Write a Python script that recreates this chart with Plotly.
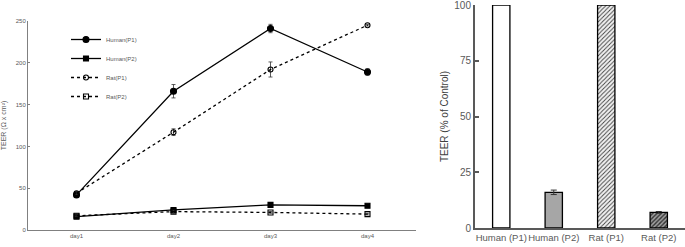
import plotly.graph_objects as go

days = ["day1", "day2", "day3", "day4"]
human_p1 = [42, 166, 241, 189]
human_p1_err = [2, 8, 5, 4]
human_p2 = [16, 24, 30, 29]
human_p2_err = [1, 1, 1, 1]
rat_p1 = [44, 117, 192, 245]
rat_p1_err = [2, 4, 9, 1]
rat_p2 = [17, 22, 21, 19]
rat_p2_err = [1, 2, 1, 1]

groups = ["Human (P1)", "Human (P2)", "Rat (P1)", "Rat (P2)"]
pct = [100, 16, 100, 7]
pct_err = [0, 1, 0, 0.4]

W, H = 685, 247
fig = go.Figure()

line_specs = [
    ("Human(P1)", human_p1, human_p1_err, "solid", "circle", 6),
    ("Human(P2)", human_p2, human_p2_err, "solid", "square", 5),
    ("Rat(P1)", rat_p1, rat_p1_err, "dot", "circle-open", 5),
    ("Rat(P2)", rat_p2, rat_p2_err, "dot", "square-open", 5),
]
for name, vals, err, dash, sym, size in line_specs:
    fig.add_trace(go.Scatter(
        x=days, y=vals, name=name, mode="lines+markers",
        line=dict(color="black", width=1.3, dash=dash),
        marker=dict(symbol=sym, size=size, color="black",
                    line=dict(color="black", width=1.1)),
        error_y=dict(type="data", array=err, color="#333333", thickness=0.8, width=2),
        xaxis="x", yaxis="y",
    ))

bar_styles = [
    dict(color="white", pattern=dict(shape="")),
    dict(color="#a6a6a6", pattern=dict(shape="")),
    dict(color="#f2f2f2", pattern=dict(shape="/", fgcolor="#404040", bgcolor="#f2f2f2",
                                       size=3, solidity=0.3, fillmode="replace")),
    dict(color="#a0a0a0", pattern=dict(shape="/", fgcolor="#333333", bgcolor="#a0a0a0",
                                       size=3, solidity=0.45, fillmode="replace")),
]
for g, v, e, st in zip(groups, pct, pct_err, bar_styles):
    fig.add_trace(go.Bar(
        x=[g], y=[v], showlegend=False, width=0.33,
        marker=dict(color=st["color"], pattern=st["pattern"],
                    line=dict(color="black", width=1.3)),
        error_y=dict(type="data", array=[e], color="#333333", thickness=1, width=3,
                     visible=e > 0),
        xaxis="x2", yaxis="y2",
    ))

fig.update_layout(
    template="none", barmode="overlay",
    width=W, height=H, margin=dict(l=0, r=0, t=0, b=0, autoexpand=False),
    paper_bgcolor="white", plot_bgcolor="white",
    font=dict(family="Liberation Sans, Arial", color="#595959"),
    showlegend=True,
    legend=dict(x=66 / W, y=1 - 25 / H, xanchor="left", yanchor="top",
                font=dict(size=6, color="#595959"), itemwidth=30,
                bgcolor="rgba(0,0,0,0)", tracegroupgap=6),
    xaxis=dict(domain=[28 / W, 416 / W], range=[-0.5, 3.5], showgrid=False, automargin=False,
               showline=True, linecolor="#808080", linewidth=1, ticks="",
               tickfont=dict(size=6, color="#595959"), anchor="y"),
    yaxis=dict(domain=[17 / H, 1 - 21 / H], range=[0, 250], tickvals=[0, 50, 100, 150, 200, 250],
               showgrid=False, zeroline=False, showline=True, linecolor="#808080", linewidth=1,
               ticks="inside", ticklen=2, tickcolor="#808080", automargin=False,
               ticklabeloverflow="allow",
               tickfont=dict(size=6, color="#595959"), anchor="x",
               title=dict(text="TEER (Ω x cm²)", font=dict(size=7, color="#595959"), standoff=8)),
    xaxis2=dict(domain=[475 / W, 1.0], range=[-0.5, 3.5], showgrid=False, automargin=False,
                showline=True, linecolor="#595959", linewidth=2, ticks="", tickangle=0,
                ticklabeloverflow="allow",
                tickfont=dict(size=9.5, color="#595959"), anchor="y2"),
    yaxis2=dict(domain=[19 / H, 1 - 5 / H], range=[0, 100], tickvals=[0, 25, 50, 75, 100],
                showgrid=False, zeroline=False, showline=True, linecolor="#595959", linewidth=2,
                ticks="inside", ticklen=4, tickcolor="#595959", tickwidth=2, automargin=False,
                ticklabeloverflow="allow",
                tickfont=dict(size=10, color="#595959"), anchor="x2",
                title=dict(text="TEER (% of Control)", font=dict(size=10, color="#404040"), standoff=4)),
)

fig.write_html("out.html", config={"displayModeBar": False},
               post_script="document.body.style.margin='0';document.body.style.overflow='hidden';")
